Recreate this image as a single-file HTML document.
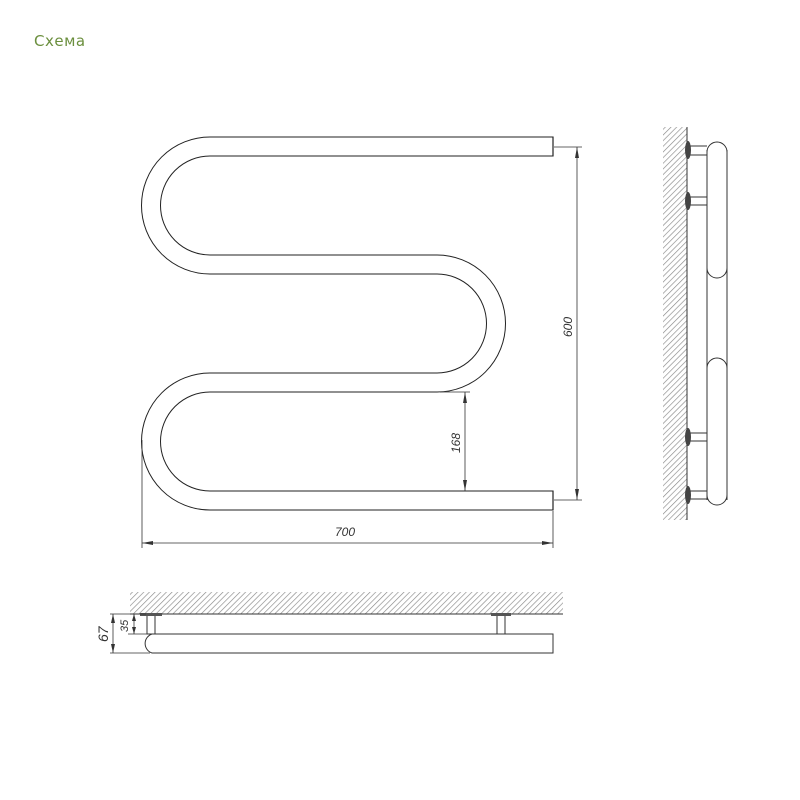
<!DOCTYPE html>
<html><head><meta charset="utf-8"><style>
html,body{margin:0;padding:0;background:#fff;}
svg{display:block}
</style></head><body>
<svg width="800" height="800" viewBox="0 0 800 800" xmlns="http://www.w3.org/2000/svg">
<defs>
<pattern id="h" width="4" height="4" patternUnits="userSpaceOnUse" patternTransform="rotate(45)">
<line x1="0" y1="0" x2="0" y2="4" stroke="#888" stroke-width="1.3"/>
</pattern>
</defs>
<text x="34" y="46" font-family="DejaVu Sans, sans-serif" font-size="15" letter-spacing="0.5" fill="#6b8f3e">Схема</text>

<!-- main serpentine -->
<path d="M553,146.5 H210 A59,59 0 0 0 210,264.5 H437 A59,59 0 0 1 437,382.5 H210 A59,59 0 0 0 210,500.5 H553" fill="none" stroke="#222" stroke-width="20"/>
<path d="M553,146.5 H210 A59,59 0 0 0 210,264.5 H437 A59,59 0 0 1 437,382.5 H210 A59,59 0 0 0 210,500.5 H553" fill="none" stroke="#fff" stroke-width="18"/>
<line x1="553" y1="136.5" x2="553" y2="156.5" stroke="#222" stroke-width="1.2"/>
<line x1="553" y1="490.5" x2="553" y2="510.5" stroke="#222" stroke-width="1.2"/>

<g stroke="#333" stroke-width="0.8" fill="none">
<line x1="554" y1="147" x2="582" y2="147"/>
<line x1="554" y1="500" x2="582" y2="500"/>
<line x1="577" y1="147" x2="577" y2="500"/>
<line x1="440" y1="392" x2="470" y2="392"/>
<line x1="465" y1="392" x2="465" y2="491"/>
<line x1="142" y1="440" x2="142" y2="548"/>
<line x1="553" y1="511" x2="553" y2="548"/>
<line x1="142" y1="543" x2="553" y2="543"/>
</g>
<g fill="#333">
<polygon points="577,147 575,158 579,158"/>
<polygon points="577,500 575,489 579,489"/>
<polygon points="465,392 463,403 467,403"/>
<polygon points="465,491 463,480 467,480"/>
<polygon points="142,543 153,541 153,545"/>
<polygon points="553,543 542,541 542,545"/>
</g>
<g font-family="Liberation Sans, sans-serif" font-size="12" fill="#333" font-style="italic">
<text x="335" y="536">700</text>
<text transform="translate(572,337) rotate(-90)">600</text>
<text transform="translate(460,453) rotate(-90)">168</text>
</g>

<!-- side view -->
<rect x="663" y="127" width="24" height="393" fill="url(#h)"/>
<line x1="687" y1="127" x2="687" y2="520" stroke="#333" stroke-width="1"/>
<g stroke="#333" stroke-width="1" fill="#fff">
<line x1="707" y1="150" x2="707" y2="500"/>
<line x1="727" y1="150" x2="727" y2="500"/>
<path d="M707,278 V152 A10,10 0 0 1 727,152 V268 A10,10 0 0 1 707,268"/>
<path d="M707,368 A10,10 0 0 1 727,368 V495 A10,10 0 0 1 707,495 Z"/>
</g>
<g stroke="#333" stroke-width="1">
<line x1="689" y1="146" x2="707" y2="146"/><line x1="689" y1="155" x2="707" y2="155"/>
<line x1="689" y1="197" x2="707" y2="197"/><line x1="689" y1="205" x2="707" y2="205"/>
<line x1="689" y1="433" x2="707" y2="433"/><line x1="689" y1="441" x2="707" y2="441"/>
<line x1="689" y1="491" x2="707" y2="491"/><line x1="689" y1="499" x2="707" y2="499"/>
</g>
<g fill="#444">
<ellipse cx="688" cy="150" rx="3" ry="9"/>
<ellipse cx="688" cy="201" rx="3" ry="9"/>
<ellipse cx="688" cy="437" rx="3" ry="9"/>
<ellipse cx="688" cy="495" rx="3" ry="9"/>
</g>

<!-- bottom view -->
<rect x="130" y="592" width="433" height="22" fill="url(#h)"/>
<line x1="130" y1="614" x2="563" y2="614" stroke="#333" stroke-width="1"/>
<g stroke="#333" stroke-width="1" fill="#fff">
<path d="M553,634 H152 A10,10 0 0 0 152,653 H553 Z"/>
<rect x="147" y="615" width="8" height="19"/>
<rect x="497" y="615" width="8" height="19"/>
</g>
<rect x="140" y="613" width="22" height="3" fill="#555"/>
<rect x="491" y="613" width="20" height="3" fill="#555"/>
<g stroke="#333" stroke-width="0.8">
<line x1="110" y1="614" x2="146" y2="614"/>
<line x1="110" y1="653" x2="150" y2="653"/>
<line x1="128" y1="634" x2="147" y2="634"/>
<line x1="113" y1="614" x2="113" y2="653"/>
<line x1="134" y1="614" x2="134" y2="634"/>
</g>
<g fill="#333">
<polygon points="113,614 111,623 115,623"/>
<polygon points="113,653 111,644 115,644"/>
<polygon points="134,614 132,621 136,621"/>
<polygon points="134,634 132,627 136,627"/>
</g>
<g font-family="Liberation Sans, sans-serif" fill="#333" font-style="italic">
<text transform="translate(108,642) rotate(-90)" font-size="14">67</text>
<text transform="translate(128,632) rotate(-90)" font-size="11">35</text>
</g>
</svg>
</body></html>
